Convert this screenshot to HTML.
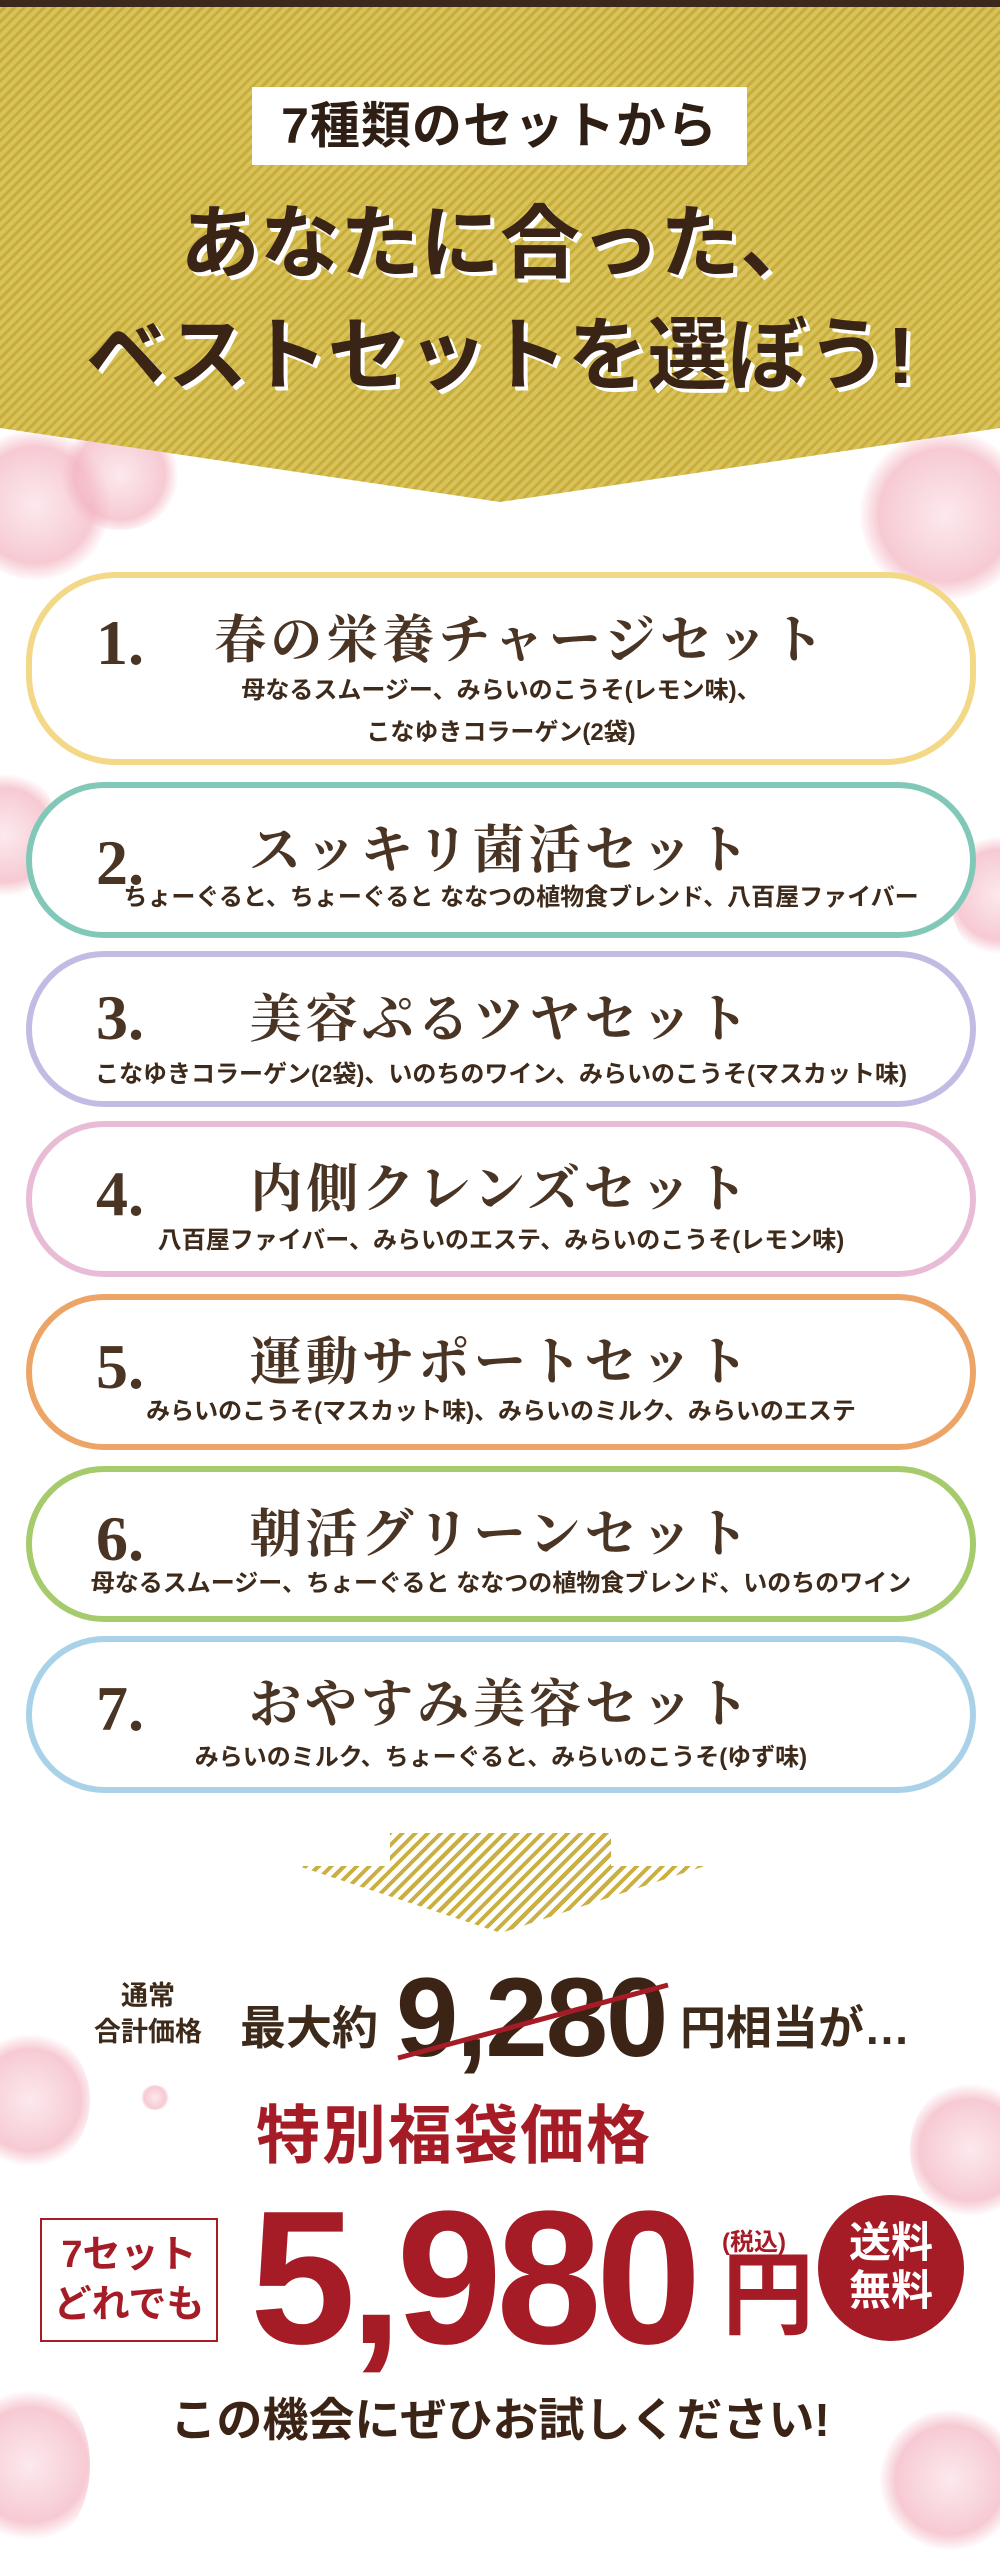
<!DOCTYPE html>
<html><head><meta charset="utf-8"><style>
*{margin:0;padding:0;box-sizing:border-box}
body{width:1000px;height:2546px;position:relative;background:#fff;overflow:hidden;font-family:"Liberation Sans","Noto Sans CJK JP",sans-serif;color:#3d2a1a}
.abs{position:absolute}
.banner{left:0;top:0;width:1000px;height:502px;background:repeating-linear-gradient(135deg,#c8ad3c 0 3px,#d8c35a 3px 7px);clip-path:polygon(0 0,1000px 0,1000px 428px,500px 502px,0 428px)}
.topbar{left:0;top:0;width:1000px;height:7px;background:#3b2a1c}
.label{left:252px;top:87px;width:495px;height:78px;background:#fff;font-weight:bold;font-size:50px;text-align:center;line-height:78px;color:#2e1e14;letter-spacing:1px}
.head{left:0;width:1000px;text-align:center;font-weight:bold;color:#3a2416;text-shadow:4px 4px 0 #fff,3px 3px 0 #fff;white-space:nowrap}
.card{left:26px;width:950px;border:6px solid;border-radius:90px;background:#fff}
.num{position:absolute;left:64px;font-family:"Liberation Serif","Noto Serif CJK SC",serif;font-weight:bold;font-size:64px;color:#4a3424}
.ttl{position:absolute;left:0;width:100%;text-align:center;font-family:"Noto Serif CJK SC","Noto Serif CJK JP",serif;font-weight:bold;font-size:52px;letter-spacing:4px;color:#4a3424;white-space:nowrap}
.sub{position:absolute;left:0;width:100%;text-align:center;font-size:24px;font-weight:bold;color:#3d2a1a;white-space:nowrap;line-height:36px}
.petal{position:absolute;border-radius:50%;opacity:.7;background:radial-gradient(circle,#fbe0e6 0%,#f3b3c0 55%,rgba(243,179,192,0) 72%)}
.red{color:#a51c26}
</style></head><body>
<div class="petal" style="left:-40px;top:430px;width:150px;height:150px"></div>
<div class="petal" style="left:60px;top:420px;width:120px;height:110px"></div>
<div class="petal" style="left:860px;top:430px;width:170px;height:170px"></div>
<div class="petal" style="left:-50px;top:770px;width:110px;height:130px"></div>
<div class="petal" style="left:950px;top:830px;width:100px;height:130px"></div>
<div class="petal" style="left:-30px;top:2030px;width:120px;height:140px"></div>
<div class="petal" style="left:910px;top:2080px;width:120px;height:140px"></div>
<div class="petal" style="left:-30px;top:2380px;width:120px;height:170px"></div>
<div class="petal" style="left:880px;top:2410px;width:140px;height:140px"></div>
<div class="petal" style="left:140px;top:2085px;width:30px;height:25px"></div>

<div class="abs banner"></div>
<div class="abs topbar"></div>
<div class="abs label">7種類のセットから</div>
<div class="abs head" style="top:200px;font-size:80px;line-height:88px">あなたに合った、</div>
<div class="abs head" style="top:310px;font-size:80px;line-height:92px">ベストセットを選ぼう!</div>

<div class="abs card" style="top:572px;height:193px;border-color:#f3d887">
 <div class="num" style="top:28px">1.</div>
 <div class="ttl" style="top:20px;padding-left:40px">春の栄養チャージセット</div>
 <div class="sub" style="top:92px;line-height:42px">母なるスムージー、みらいのこうそ(レモン味)、<br>こなゆきコラーゲン(2袋)</div>
</div>
<div class="abs card" style="top:782px;height:156px;border-color:#82c8b9">
 <div class="num" style="top:38px">2.</div>
 <div class="ttl" style="top:20px">スッキリ菌活セット</div>
 <div class="sub" style="top:92px;padding-left:40px">ちょーぐると、ちょーぐると ななつの植物食ブレンド、八百屋ファイバー</div>
</div>
<div class="abs card" style="top:951px;height:156px;border-color:#c3bbe3">
 <div class="num" style="top:24px">3.</div>
 <div class="ttl" style="top:20px">美容ぷるツヤセット</div>
 <div class="sub" style="top:100px">こなゆきコラーゲン(2袋)、いのちのワイン、みらいのこうそ(マスカット味)</div>
</div>
<div class="abs card" style="top:1121px;height:156px;border-color:#e8bcd6">
 <div class="num" style="top:30px">4.</div>
 <div class="ttl" style="top:20px">内側クレンズセット</div>
 <div class="sub" style="top:96px">八百屋ファイバー、みらいのエステ、みらいのこうそ(レモン味)</div>
</div>
<div class="abs card" style="top:1294px;height:156px;border-color:#eda467">
 <div class="num" style="top:30px">5.</div>
 <div class="ttl" style="top:20px">運動サポートセット</div>
 <div class="sub" style="top:94px">みらいのこうそ(マスカット味)、みらいのミルク、みらいのエステ</div>
</div>
<div class="abs card" style="top:1466px;height:156px;border-color:#a6cb6d">
 <div class="num" style="top:30px">6.</div>
 <div class="ttl" style="top:20px">朝活グリーンセット</div>
 <div class="sub" style="top:94px">母なるスムージー、ちょーぐると ななつの植物食ブレンド、いのちのワイン</div>
</div>
<div class="abs card" style="top:1636px;height:157px;border-color:#a9d2e8">
 <div class="num" style="top:30px">7.</div>
 <div class="ttl" style="top:20px">おやすみ美容セット</div>
 <div class="sub" style="top:98px">みらいのミルク、ちょーぐると、みらいのこうそ(ゆず味)</div>
</div>

<div class="abs" style="left:298px;top:1833px;width:407px;height:100px;background:repeating-linear-gradient(135deg,#c9b040 0 4px,#fff 4px 9px);clip-path:polygon(92px 0,313px 0,313px 33px,407px 33px,203px 100px,0 33px,92px 33px)"></div>

<div class="abs" style="left:78px;top:1978px;width:140px;font-size:27px;font-weight:bold;line-height:36px;text-align:center">通常<br>合計価格</div>
<div class="abs" style="left:240px;top:2000px;font-size:46px;font-weight:bold;line-height:56px">最大約</div>
<div class="abs" style="left:396px;top:1962px;font-size:112px;font-weight:bold;line-height:112px;letter-spacing:-2px;color:#3b2416">9,280</div>
<svg class="abs" style="left:0;top:0" width="1000" height="2546"><line x1="398" y1="2058" x2="668" y2="1985" stroke="#a51c26" stroke-width="5"/></svg>
<div class="abs" style="left:680px;top:2000px;font-size:46px;font-weight:bold;line-height:56px">円相当が…</div>

<div class="abs red" style="left:256px;top:2098px;font-size:64px;font-weight:bold;line-height:76px;letter-spacing:2px">特別福袋価格</div>
<div class="abs red" style="left:40px;top:2218px;width:178px;height:124px;border:2px solid #a51c26;font-size:38px;font-weight:bold;line-height:50px;text-align:center;padding-top:10px">7セット<br>どれでも</div>
<div class="abs red" style="left:250px;top:2178px;font-size:190px;font-weight:bold;line-height:200px;letter-spacing:-6px">5,980</div>
<div class="abs red" style="left:722px;top:2222px;font-size:24px;font-weight:bold">(税込)</div>
<div class="abs red" style="left:722px;top:2246px;font-size:92px;font-weight:bold;line-height:100px">円</div>
<div class="abs" style="left:818px;top:2195px;width:146px;height:146px;border-radius:50%;background:#a51c26;color:#fff;font-size:42px;font-weight:bold;line-height:48px;text-align:center;padding-top:24px">送料<br>無料</div>

<div class="abs" style="left:0;top:2390px;width:1000px;text-align:center;font-size:46px;font-weight:bold;line-height:60px;color:#3b2416">この機会にぜひお試しください!</div>
</body></html>
